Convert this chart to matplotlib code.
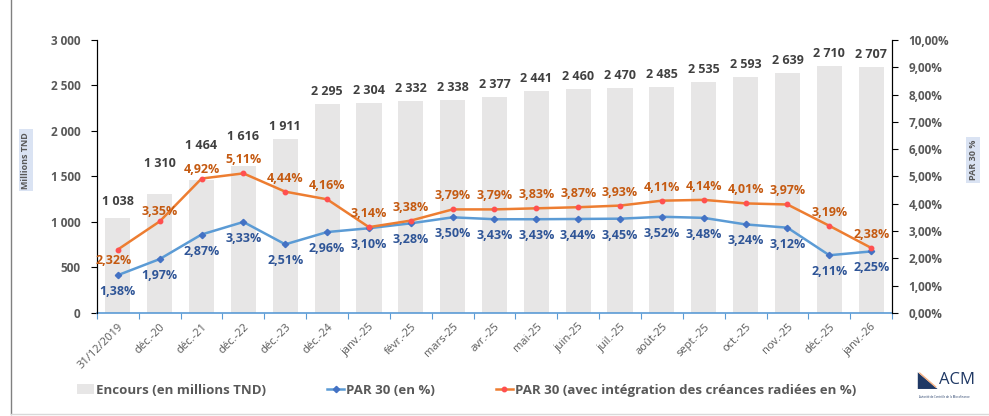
import matplotlib
matplotlib.use('Agg')
import matplotlib.pyplot as plt
from matplotlib.lines import Line2D
from matplotlib.patches import Rectangle, Polygon
import numpy as np

# Données
periodes = ['31/12/2019', 'déc.-20', 'déc.-21', 'déc.-22', 'déc.-23', 'déc.-24',
            'janv.-25', 'févr.-25', 'mars-25', 'avr.-25', 'mai-25', 'juin-25',
            'juil.-25', 'août-25', 'sept.-25', 'oct.-25', 'nov.-25', 'déc.-25', 'janv.-26']
encours = [1038, 1310, 1464, 1616, 1911, 2295, 2304, 2332, 2338, 2377, 2441,
           2460, 2470, 2485, 2535, 2593, 2639, 2710, 2707]
par30 = [1.38, 1.97, 2.87, 3.33, 2.51, 2.96, 3.10, 3.28, 3.50, 3.43, 3.43,
         3.44, 3.45, 3.52, 3.48, 3.24, 3.12, 2.11, 2.25]
par30_radiees = [2.32, 3.35, 4.92, 5.11, 4.44, 4.16, 3.14, 3.38, 3.79, 3.79, 3.83,
                 3.87, 3.93, 4.11, 4.14, 4.01, 3.97, 3.19, 2.38]

plt.rcParams['font.family'] = ['Open Sans', 'DejaVu Sans']
gris_txt = '#595959'

fig = plt.figure(figsize=(9.89, 4.16), dpi=100)
ax = fig.add_axes([0.098, 0.248, 0.804, 0.656])
ax2 = ax.twinx()

x = np.arange(len(periodes))

# barres (étiquettes décalées vers le haut pour les premières, comme dans l'original)
decalage = {0: 10, 1: 24, 2: 28, 3: 23}
ax.bar(x, encours, width=0.6, color='#e7e6e6', zorder=1)
for xi, v in zip(x, encours):
    ax.annotate(f'{v:,}'.replace(',', ' '), (xi, v), xytext=(0, decalage.get(xi, 6)),
                textcoords='offset pixels', ha='center', va='bottom',
                fontsize=9, fontweight='bold', color='#404040')

ax.set_xlim(-0.5, len(periodes) - 0.5)
ax.set_ylim(0, 3000)
ax.set_yticks(range(0, 3001, 500))
ax.set_yticklabels([f'{v:,}'.replace(',', ' ') for v in range(0, 3001, 500)],
                   fontsize=8.5, fontweight='bold', color=gris_txt)

# axe x : traits entre catégories, étiquettes au centre
ax.set_xticks(np.arange(-0.5, len(periodes), 1))
ax.set_xticklabels([])
ax.tick_params(axis='x', which='major', length=4, color='#5b9bd5')
ax.set_xticks(x, minor=True)
ax.set_xticklabels(periodes, minor=True, rotation=45, ha='right', rotation_mode='anchor',
                   fontsize=8, color=gris_txt)
ax.tick_params(axis='x', which='minor', length=0, pad=6)
ax.tick_params(axis='y', length=4, color='black', pad=8)
ax.spines['top'].set_visible(False)
ax.spines['bottom'].set_color('#5b9bd5')
ax.spines['bottom'].set_linewidth(1.2)

# courbes sur l'axe de droite
ax2.plot(x, par30, color='#5b9bd5', lw=1.8, marker='D', ms=3.2,
         mfc='#4472c4', mec='#4472c4', zorder=3)
ax2.plot(x, par30_radiees, color='#ed7d31', lw=1.8, marker='o', ms=3.2,
         mfc='#ff5050', mec='#ff5050', zorder=3)

for i, (a, b) in enumerate(zip(par30, par30_radiees)):
    ax2.annotate(f'{a:.2f}%'.replace('.', ','), (i, a), xytext=(0, -10),
                 textcoords='offset pixels', ha='center', va='top',
                 fontsize=9, fontweight='bold', color='#2f5597')
    if i == 0:
        ax2.annotate(f'{b:.2f}%'.replace('.', ','), (i, b), xytext=(-4, -4),
                     textcoords='offset pixels', ha='center', va='top',
                     fontsize=9, fontweight='bold', color='#c55a11')
    else:
        dy = 3 if i in (1, 2) else 7
        ax2.annotate(f'{b:.2f}%'.replace('.', ','), (i, b), xytext=(0, dy),
                     textcoords='offset pixels', ha='center', va='bottom',
                     fontsize=9, fontweight='bold', color='#c55a11')

ax2.set_ylim(0, 10)
ax2.set_yticks(range(0, 11))
ax2.set_yticklabels([f'{v},00%' for v in range(0, 11)], fontsize=8.5,
                    fontweight='bold', color=gris_txt)
ax2.tick_params(axis='y', length=4, color='black', pad=8)
ax2.spines['top'].set_visible(False)
ax2.spines['bottom'].set_visible(False)

# titres des axes
fig.text(0.026, 0.615, 'Millions TND', rotation=90, ha='center', va='center',
         fontsize=6.5, fontweight='bold', color=gris_txt,
         bbox=dict(boxstyle='square,pad=0.3', fc='#dae3f3', ec='none'))
fig.text(0.984, 0.615, 'PAR 30 %', rotation=90, ha='center', va='center',
         fontsize=6.5, fontweight='bold', color=gris_txt,
         bbox=dict(boxstyle='square,pad=0.3', fc='#dae3f3', ec='none'))

# légende
handles = [Rectangle((0, 0), 1, 1, fc='#e7e6e6', ec='none'),
           Line2D([], [], color='#5b9bd5', lw=1.8, marker='D', ms=3.2, mfc='#4472c4', mec='#4472c4'),
           Line2D([], [], color='#ed7d31', lw=1.8, marker='o', ms=3.2, mfc='#ff5050', mec='#ff5050')]
labels = ['Encours (en millions TND)', 'PAR 30 (en %)',
          'PAR 30 (avec intégration des créances radiées en %)']
fig.legend(handles, labels, loc='center left', bbox_to_anchor=(0.066, 0.062), ncol=3,
           frameon=False, handlelength=1.3, handletextpad=0.15, columnspacing=4.6,
           prop=dict(size=9.5, weight='bold'), labelcolor=gris_txt)

# logo ACM
fig.add_artist(Polygon([[0.928, 0.065], [0.928, 0.105], [0.948, 0.065]],
                       closed=True, fc='#1f3864', ec='none', transform=fig.transFigure))
fig.add_artist(Line2D([0.930, 0.946], [0.103, 0.070], color='#f4b183', lw=1,
                      transform=fig.transFigure))
fig.text(0.949, 0.086, 'ACM', fontsize=12, color='#1f3864', ha='left', va='center')
fig.text(0.955, 0.045, 'Autorité de Contrôle de la Microfinance', fontsize=2,
         color='#1f3864', ha='center', va='center')

# cadre
fig.add_artist(Line2D([0.011, 0.011], [0.005, 1.0], color='#808080', lw=1,
                      transform=fig.transFigure))
fig.add_artist(Line2D([0.011, 1.0], [0.005, 0.005], color='#d9d9d9', lw=1,
                      transform=fig.transFigure))

fig.savefig('out.png', dpi=100)
